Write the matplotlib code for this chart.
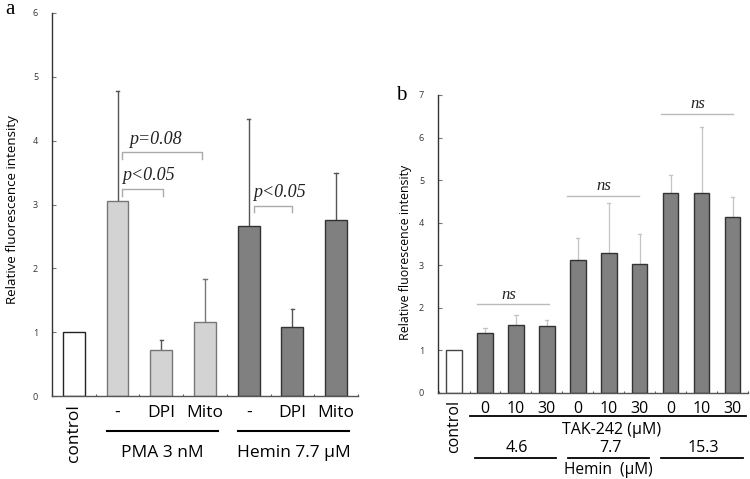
import matplotlib
matplotlib.use('Agg')
import matplotlib.pyplot as plt
import numpy as np

plt.rcParams['font.family'] = ['Open Sans', 'DejaVu Sans']

# ---- panel a data ----
a_labels = ['-', 'DPI', 'Mito', '-', 'DPI', 'Mito']
a_values = [1.00, 3.06, 0.72, 1.16, 2.66, 1.08, 2.75]
a_errtop = [1.00, 4.78, 0.88, 1.84, 4.34, 1.36, 3.49]
a_groups = ['PMA 3 nM', 'Hemin 7.7 µM']

# ---- panel b data ----
b_labels = ['0', '10', '30', '0', '10', '30', '0', '10', '30']
b_values = [1.00, 1.41, 1.60, 1.57, 3.12, 3.29, 3.03, 4.70, 4.70, 4.13]
b_errtop = [1.00, 1.52, 1.83, 1.71, 3.64, 4.46, 3.73, 5.12, 6.25, 4.60]
b_hemin = ['4.6', '7.7', '15.3']

W, H = 750, 479
fig = plt.figure(figsize=(W / 100, H / 100), dpi=100)


def px(x0, y0, x1, y1):
    return [x0 / W, 1 - y1 / H, (x1 - x0) / W, (y1 - y0) / H]


def style_axes(ax, ymax):
    for s in ['top', 'right']:
        ax.spines[s].set_visible(False)
    ax.spines['left'].set_color('#333333')
    ax.spines['bottom'].set_color('#555555')
    ax.spines['left'].set_linewidth(1.0)
    ax.spines['bottom'].set_linewidth(1.0)
    ax.set_ylim(0, ymax)
    ax.set_yticks(range(ymax + 1))
    ax.tick_params(axis='y', direction='in', length=3, width=0.8, color='#777777',
                   labelsize=6.5, pad=10, labelcolor='#333333')


# ================= panel a =================
ax = fig.add_axes(px(52, 13, 358, 396))
style_axes(ax, 6)
xa = np.arange(len(a_values))
colors_a = ['white'] + ['#d3d3d3'] * 3 + ['#808080'] * 3
edges_a = ['#222222'] + ['#777777'] * 3 + ['#333333'] * 3
ax.bar(xa, a_values, width=0.5, color=colors_a, edgecolor=edges_a, linewidth=1.0, zorder=2)
for i in range(1, len(a_values)):
    ecol = '#555555' if i != 3 else '#777777'
    ax.plot([xa[i], xa[i]], [a_values[i], a_errtop[i]], color=ecol, lw=1.0, zorder=1)
    ax.plot([xa[i] - 0.04, xa[i] + 0.04], [a_errtop[i]] * 2, color=ecol, lw=1.0)
ax.set_xlim(-0.48, 6.48)
ax.set_xticks(np.arange(-0.5, 6.6, 1.0))
ax.tick_params(axis='x', direction='in', length=1.5, color='#555555', labelbottom=False)

brackets_a = [(1.11, 2.93, 3.83, 3.72, 'p=0.08', 1.86, 4.02),
              (1.11, 2.05, 3.25, 3.14, 'p<0.05', 1.70, 3.45),
              (4.11, 5.00, 2.98, 2.88, 'p<0.05', 4.70, 3.19)]
for x0, x1, yt, yb, txt, tx, ty in brackets_a:
    ax.plot([x0, x0, x1, x1], [yb, yt, yt, yb], color='#aaaaaa', lw=1.0)
    ax.text(tx, ty, txt, ha='center', va='center', fontsize=13, style='italic',
            family='Liberation Serif', color='#222222')

ax.text(0, -0.12, 'control', rotation=90, ha='center', va='top', fontsize=12.5)
for i, lab in enumerate(a_labels):
    ax.text(i + 1, -0.27, lab, ha='center', va='center', fontsize=12.5)
for g, (x0, x1) in enumerate([(0.75, 3.3), (3.75, 6.3)]):
    ax.plot([x0, x1], [-0.55, -0.55], color='black', lw=1.5, clip_on=False)
    ax.text((x0 + x1) / 2, -0.89, a_groups[g], ha='center', va='center', fontsize=12.5)
ax.set_ylabel('Relative fluorescence intensity', fontsize=9.6)
ax.yaxis.set_label_coords(-0.108, 0.488)
fig.text(5 / W, 1 - 9 / H, 'a', fontsize=15, family='Liberation Serif', va='center')

# ================= panel b =================
bx = fig.add_axes(px(438, 95, 748, 393))
style_axes(bx, 7)
xb = np.arange(len(b_values))
colors_b = ['white'] + ['#808080'] * 9
edges_b = ['#444444'] + ['#333333'] * 9
bx.bar(xb, b_values, width=0.5, color=colors_b, edgecolor=edges_b, linewidth=1.0, zorder=2)
for i in range(1, len(b_values)):
    bx.plot([xb[i], xb[i]], [b_values[i], b_errtop[i]], color='#c4c4c4', lw=0.9, zorder=1)
    bx.plot([xb[i] - 0.05, xb[i] + 0.05], [b_errtop[i]] * 2, color='#c4c4c4', lw=0.9)
bx.set_xlim(-0.52, 9.45)
bx.set_xticks(np.arange(-0.5, 9.6, 1.0))
bx.tick_params(axis='x', direction='in', length=1.5, color='#555555', labelbottom=False)

ns_b = [(0.74, 3.06, 2.09, 1.77, 2.30),
        (3.65, 5.97, 4.63, 4.84, 4.86),
        (6.68, 9.00, 6.55, 7.87, 6.80)]
for x0, x1, y, tx, ty in ns_b:
    bx.plot([x0, x1], [y, y], color='#bbbbbb', lw=1.0, clip_on=False)
    bx.text(tx, ty, 'ns', ha='center', va='center', fontsize=12, style='italic',
            family='Liberation Serif', color='#222222')

bx.text(0, -0.17, 'control', rotation=90, ha='center', va='top', fontsize=11.5)
for i, lab in enumerate(b_labels):
    bx.text(i + 1, -0.37, lab, ha='center', va='center', fontsize=11.5)
bx.plot([0.5, 9.45], [-0.54, -0.54], color='black', lw=1.3, clip_on=False)
bx.text(5.1, -0.87, 'TAK-242 (µM)', ha='center', va='center', fontsize=11.5)
for g, (x0, x1) in enumerate([(0.68, 3.3), (3.68, 6.3), (6.68, 9.35)]):
    bx.plot([x0, x1], [-1.52, -1.52], color='black', lw=1.3, clip_on=False)
    bx.text((x0 + x1) / 2 + 0.05, -1.3, b_hemin[g], ha='center', va='center', fontsize=11.5)
bx.text(5.0, -1.82, 'Hemin  (µM)', ha='center', va='center', fontsize=11.2)
bx.set_ylabel('Relative fluorescence intensity', fontsize=8.9)
bx.yaxis.set_label_coords(-0.085, 0.473)
fig.text(396 / W, 1 - 95 / H, 'b', fontsize=15, family='Liberation Serif', va='center')

fig.savefig('out.png', dpi=100)
